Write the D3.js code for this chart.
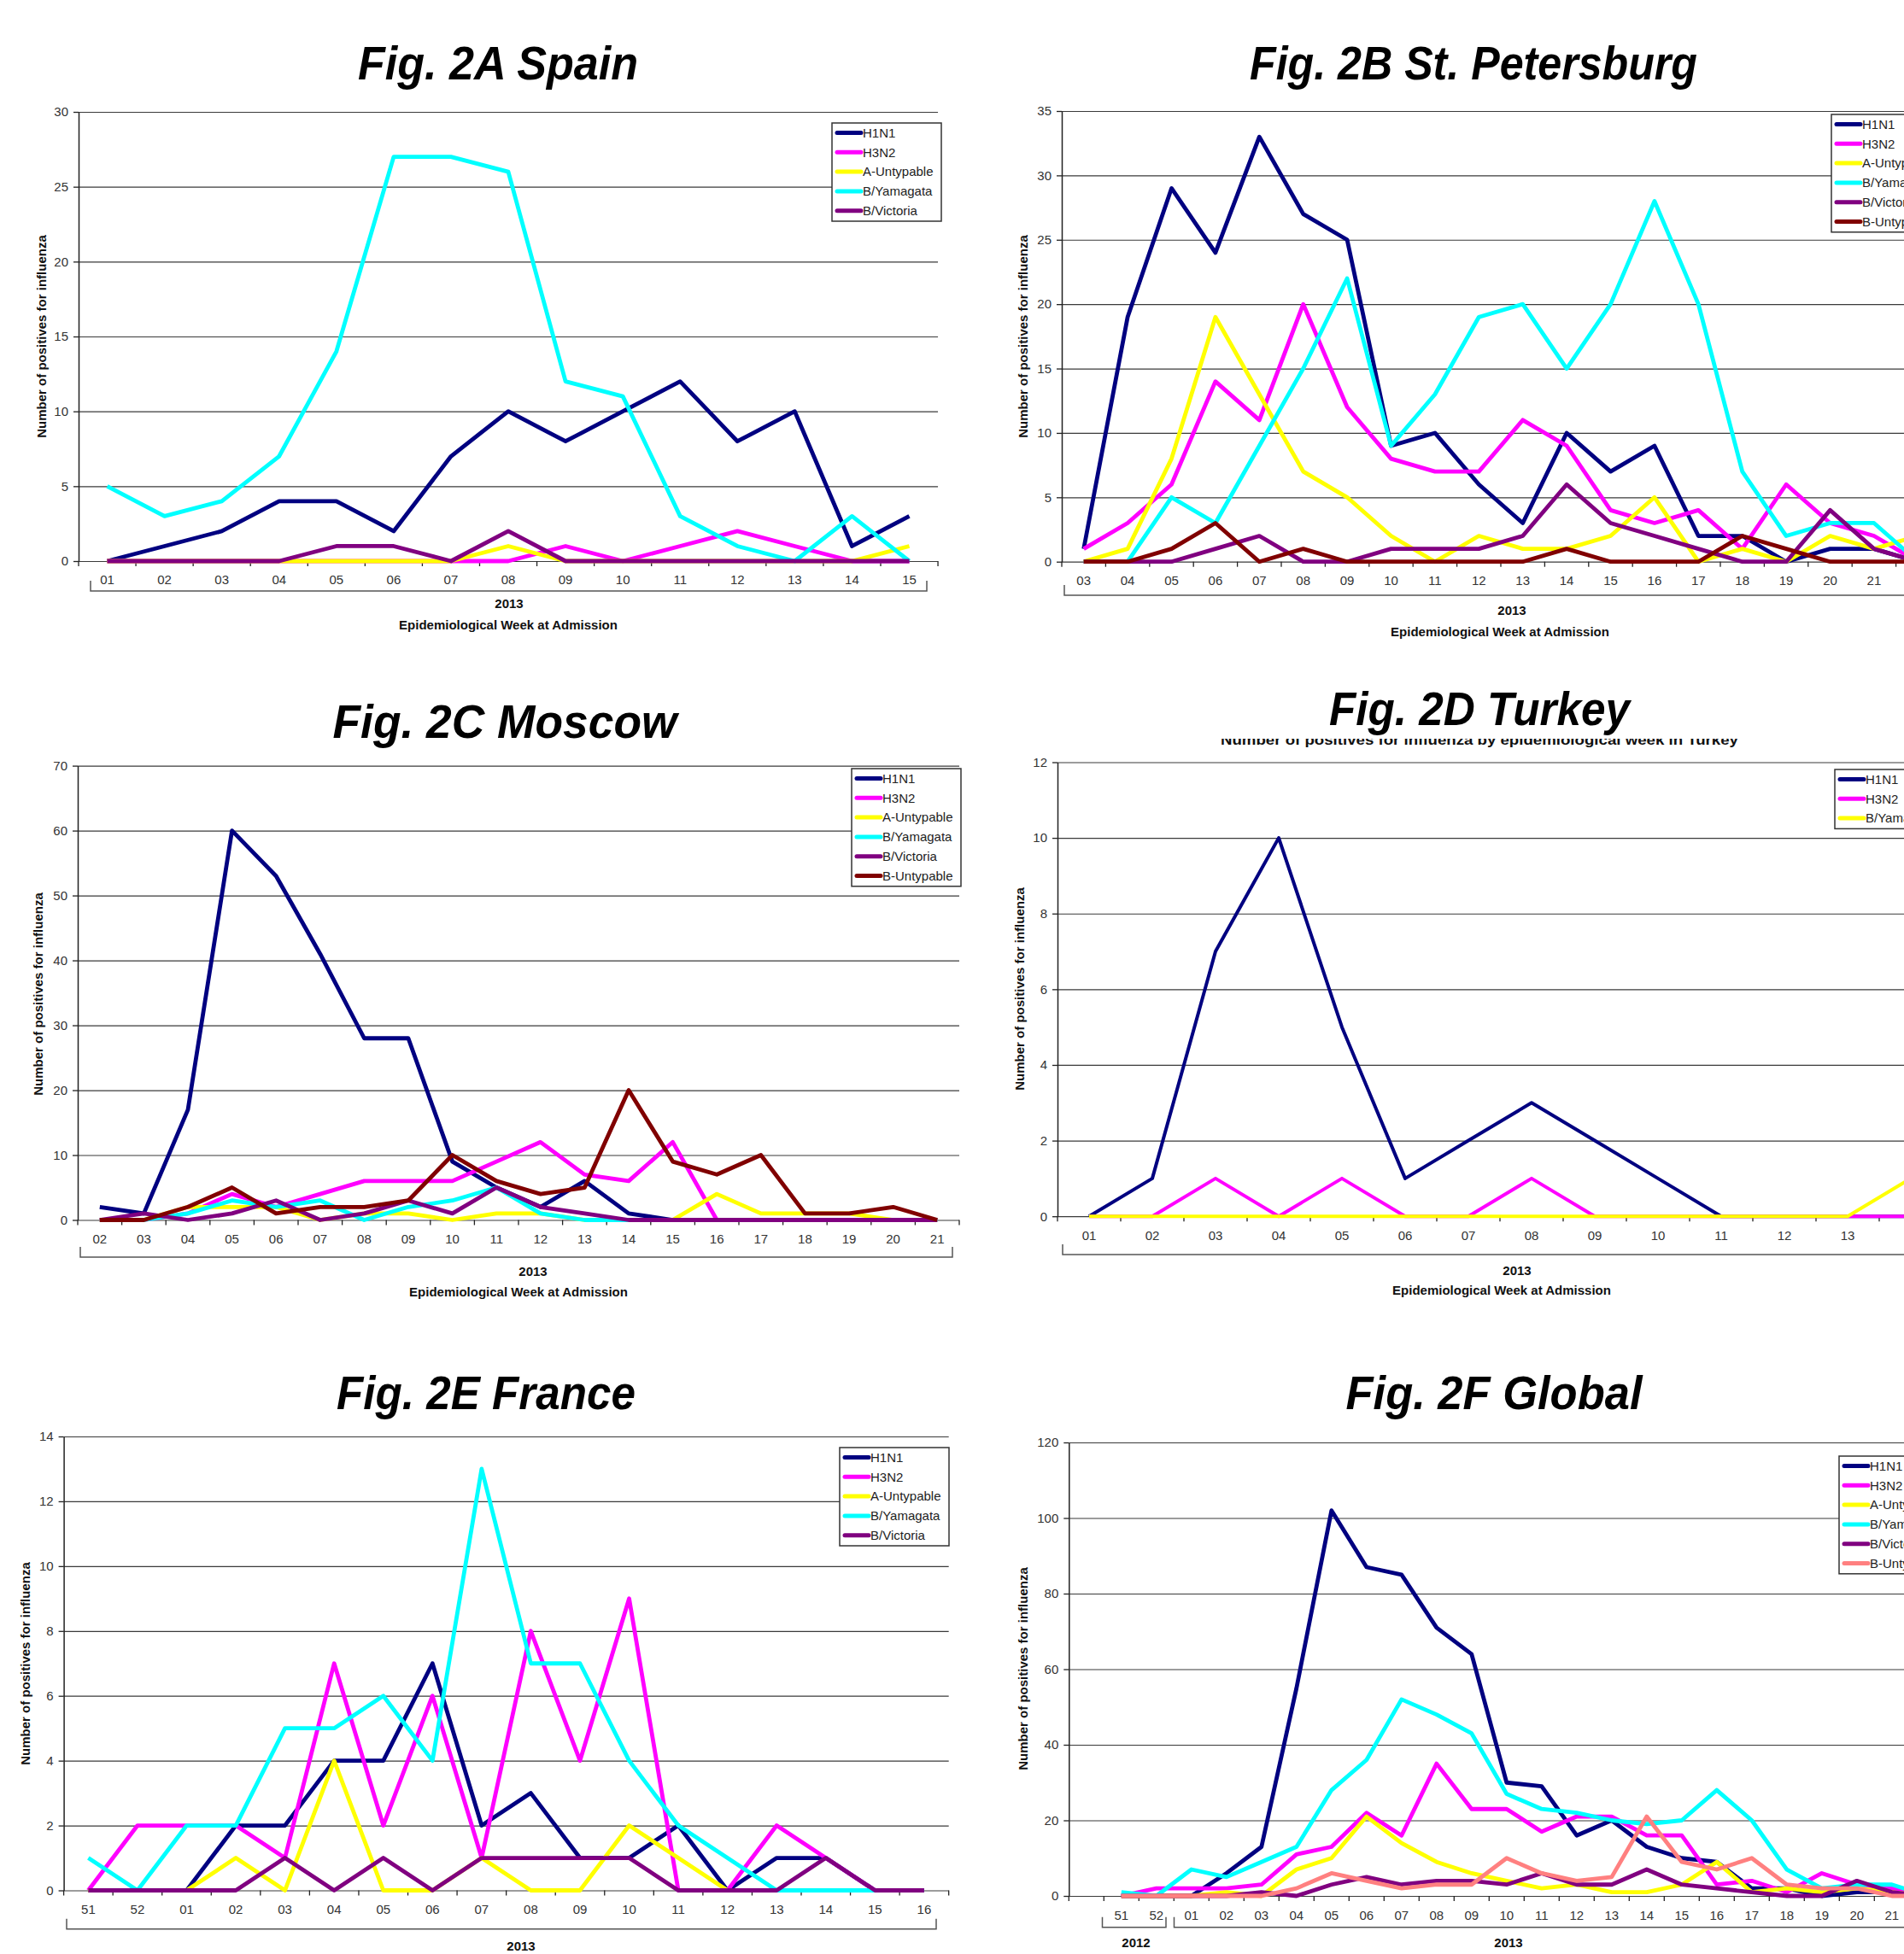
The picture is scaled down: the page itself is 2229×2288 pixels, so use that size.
<!DOCTYPE html>
<html>
<head>
<meta charset="utf-8">
<script src="https://cdn.jsdelivr.net/npm/d3@7"></script>
<style>
html, body { margin: 0; padding: 0; background: #fff; }
svg { display: block; font-family: "Liberation Sans", Arial, sans-serif; }
</style>
</head>
<body>
<svg id="chart" width="2229" height="2288"></svg>
<script>
"use strict";

// Series colours (Excel style)
var colNavy = "#000080", colPink = "#ff00ff", colYellow = "#ffff00",
    colCyan = "#00ffff", colPurple = "#800080", colBrown = "#800000", colSalmon = "#ff8080";

// Fig. 2A Spain
var spainWeeks = ["01","02","03","04","05","06","07","08","09","10","11","12","13","14","15"];
var spainH1N1 = [0,1,2,4,4,2,7,10,8,10,12,8,10,1,3];
var spainH3N2 = [0,0,0,0,0,0,0,0,1,0,1,2,1,0,0];
var spainAUnt = [0,0,0,0,0,0,0,1,0,0,0,0,0,0,1];
var spainBYam = [5,3,4,7,14,27,27,26,12,11,3,1,0,3,0];
var spainBVic = [0,0,0,0,1,1,0,2,0,0,0,0,0,0,0];

// Fig. 2B St. Petersburg
var spbWeeks = ["03","04","05","06","07","08","09","10","11","12","13","14","15","16","17","18","19","20","21","22"];
var spbH1N1 = [1,19,29,24,33,27,25,9,10,6,3,10,7,9,2,2,0,1,1,0];
var spbH3N2 = [1,3,6,14,11,20,12,8,7,7,11,9,4,3,4,1,6,3,2,0];
var spbAUnt = [0,1,8,19,13,7,5,2,0,2,1,1,2,5,0,1,0,2,1,2];
var spbBYam = [0,0,5,3,9,15,22,9,13,19,20,15,20,28,20,7,2,3,3,0];
var spbBVic = [0,0,0,1,2,0,0,1,1,1,2,6,3,2,1,0,0,4,1,0];
var spbBUnt = [0,0,1,3,0,1,0,0,0,0,0,1,0,0,0,2,1,0,0,0];

// Fig. 2C Moscow
var mosWeeks = ["02","03","04","05","06","07","08","09","10","11","12","13","14","15","16","17","18","19","20","21"];
var mosH1N1 = [2,1,17,60,53,41,28,28,9,5,2,6,1,0,0,0,0,0,0,0];
var mosH3N2 = [0,0,1,4,2,4,6,6,6,9,12,7,6,12,0,0,0,0,0,0];
var mosAUnt = [0,0,2,2,2,0,1,1,0,1,1,0,0,0,4,1,1,1,0,0];
var mosBYam = [0,0,1,3,2,3,0,2,3,5,1,0,0,0,0,0,0,0,0,0];
var mosBVic = [0,1,0,1,3,0,1,3,1,5,2,1,0,0,0,0,0,0,0,0];
var mosBUnt = [0,0,2,5,1,2,2,3,10,6,4,5,20,9,7,10,1,1,2,0];

// Fig. 2D Turkey
var turWeeks = ["01","02","03","04","05","06","07","08","09","10","11","12","13","14"];
var turH1N1 = [0,1,7,10,5,1,2,3,2,1,0,0,0,0];
var turH3N2 = [0,0,1,0,1,0,0,1,0,0,0,0,0,0];
var turBYam = [0,0,0,0,0,0,0,0,0,0,0,0,0,1];

// Fig. 2E France
var fraWeeks = ["51","52","01","02","03","04","05","06","07","08","09","10","11","12","13","14","15","16"];
var fraH1N1 = [0,0,0,2,2,4,4,7,2,3,1,1,2,0,1,1,0,0];
var fraH3N2 = [0,2,2,2,1,7,2,6,1,8,4,9,0,0,2,1,0,0];
var fraAUnt = [0,0,0,1,0,4,0,0,1,0,0,2,1,0,0,0,0,0];
var fraBYam = [1,0,2,2,5,5,6,4,13,7,7,4,2,1,0,0,0,0];
var fraBVic = [0,0,0,0,1,0,1,0,1,1,1,1,0,0,0,1,0,0];

// Fig. 2F Global
var gloWeeks = ["51","52","01","02","03","04","05","06","07","08","09","10","11","12","13","14","15","16","17","18","19","20","21","22"];
var gloH1N1 = [0,0,0,6,13,55,102,87,85,71,64,30,29,16,20,13,10,9,2,2,0,1,1,0];
var gloH3N2 = [0,2,2,2,3,11,13,22,16,35,23,23,17,21,21,16,16,3,4,1,6,3,2,0];
var gloAUnt = [0,0,0,1,0,7,10,21,14,9,6,4,2,3,1,1,3,9,1,2,1,2,1,0];
var gloBYam = [1,0,7,5,9,13,28,36,52,48,43,27,23,22,20,19,20,28,20,7,2,3,3,0];
var gloBVic = [0,0,0,0,1,0,3,5,3,4,4,3,6,3,3,7,3,2,1,0,0,4,1,0];
var gloBUnt = [0,0,0,0,0,2,6,4,2,3,3,10,6,4,5,21,9,7,10,3,2,2,0,0];

var fiveNames = ["H1N1","H3N2","A-Untypable","B/Yamagata","B/Victoria"];
var sixNames = fiveNames.concat(["B-Untypable"]);
var fiveColors = [colNavy, colPink, colYellow, colCyan, colPurple];

var panels = [
    {
        title: "Fig. 2A Spain", titleX: 583, titleY: 93, titleLen: 328,
        weeks: spainWeeks, domain: spainWeeks,
        values: [spainH1N1, spainH3N2, spainAUnt, spainBYam, spainBVic],
        names: fiveNames, colors: fiveColors, lineWidth: 4.8,
        x0: 92, band: 67.07, top: 131, bottom: 657, yMax: 30, yStep: 5,
        tickY: 679, legend: [974, 144], yTitle: [49, 394],
        brackets: [{ x1: 106, x2: 1085, label: "2013", lx: 596 }],
        bracketY: 692, labelY: 707, weekTitle: [595, 732]
    },
    {
        title: "Fig. 2B St. Petersburg", titleX: 1725, titleY: 93, titleLen: 524,
        weeks: spbWeeks, domain: spbWeeks,
        values: [spbH1N1, spbH3N2, spbAUnt, spbBYam, spbBVic, spbBUnt],
        names: sixNames, colors: fiveColors.concat([colBrown]), lineWidth: 4.8,
        x0: 1243, band: 51.4, top: 130, bottom: 657.7, yMax: 35, yStep: 5,
        tickY: 680, legend: [2144, 134], yTitle: [1198, 394],
        brackets: [{ x1: 1246, x2: 2300, label: "2013", lx: 1770 }],
        bracketY: 697, labelY: 715, weekTitle: [1756, 740]
    },
    {
        title: "Fig. 2C Moscow", titleX: 591, titleY: 864, titleLen: 403,
        weeks: mosWeeks, domain: mosWeeks,
        values: [mosH1N1, mosH3N2, mosAUnt, mosBYam, mosBVic, mosBUnt],
        names: sixNames, colors: fiveColors.concat([colBrown]), lineWidth: 4.8,
        x0: 91, band: 51.6, top: 896.6, bottom: 1428.5, yMax: 70, yStep: 10,
        tickY: 1451, legend: [997, 900], yTitle: [45, 1164],
        brackets: [{ x1: 94, x2: 1115, label: "2013", lx: 624 }],
        bracketY: 1472, labelY: 1489, weekTitle: [607, 1513]
    },
    {
        title: "Fig. 2D Turkey", titleX: 1732, titleY: 849, titleLen: 352,
        subtitle: "Number of positives for influenza by epidemiological week in Turkey",
        weeks: turWeeks, domain: turWeeks,
        values: [turH1N1, turH3N2, turBYam],
        names: ["H1N1","H3N2","B/Yamagata"], colors: [colNavy, colPink, colYellow], lineWidth: 4,
        x0: 1238, band: 74, top: 892.5, bottom: 1424.2, yMax: 12, yStep: 2,
        tickY: 1447, legend: [2148, 901], yTitle: [1194, 1158],
        brackets: [{ x1: 1244, x2: 2300, label: "2013", lx: 1776 }],
        bracketY: 1469, labelY: 1488, weekTitle: [1758, 1511]
    },
    {
        title: "Fig. 2E France", titleX: 569, titleY: 1650, titleLen: 350,
        weeks: fraWeeks, domain: fraWeeks,
        values: [fraH1N1, fraH3N2, fraAUnt, fraBYam, fraBVic],
        names: fiveNames, colors: fiveColors, lineWidth: 4.8,
        x0: 74.6, band: 57.56, top: 1682, bottom: 2213.5, yMax: 14, yStep: 2,
        tickY: 2235.5, legend: [983, 1695], yTitle: [30, 1948],
        brackets: [{ x1: 78, x2: 1096, label: "2013", lx: 610 }],
        bracketY: 2258.7, labelY: 2278.7, weekTitle: [590, 2303]
    },
    {
        title: "Fig. 2F Global", titleX: 1749, titleY: 1650, titleLen: 347,
        weeks: gloWeeks, domain: [" "].concat(gloWeeks),
        values: [gloH1N1, gloH3N2, gloAUnt, gloBYam, gloBVic, gloBUnt],
        names: sixNames, colors: fiveColors.concat([colSalmon]), lineWidth: 4.8,
        x0: 1251.3, band: 41, top: 1689, bottom: 2220, yMax: 120, yStep: 20,
        tickY: 2242.7, legend: [2153, 1705], yTitle: [1198, 1954],
        brackets: [
            { x1: 1290.5, x2: 1365, label: "2012", lx: 1330 },
            { x1: 1374.5, x2: 2300, label: "2013", lx: 1766 }
        ],
        bracketY: 2256.7, labelY: 2274.7, weekTitle: [1760, 2303]
    }
];

var svg = d3.select("#chart");
svg.append("rect").attr("width", 2229).attr("height", 2288).attr("fill", "#fff");

function drawPanel(p) {
    var g = svg.append("g");
    var n = p.domain.length;
    var right = p.x0 + p.band * n;

    var x = d3.scaleBand().domain(p.domain).range([p.x0, right]).padding(0);
    var y = d3.scaleLinear().domain([0, p.yMax]).range([p.bottom, p.top]);
    var yTicks = d3.range(0, p.yMax + p.yStep / 2, p.yStep);

    // Horizontal grid lines
    g.append("g")
        .attr("transform", "translate(" + p.x0 + ",0)")
        .call(d3.axisLeft(y).tickValues(yTicks).tickSize(-(right - p.x0)).tickFormat(""))
        .call(function(s) { s.select(".domain").remove(); })
        .selectAll("line")
        .attr("stroke", "#3a3a3a")
        .attr("stroke-width", 1.2)
    ;

    // Y axis with labels
    var ya = g.append("g")
        .attr("transform", "translate(" + p.x0 + ",0)")
        .call(d3.axisLeft(y).tickValues(yTicks).tickSize(6).tickSizeOuter(0).tickPadding(6))
    ;
    ya.select(".domain").attr("stroke", "#222").attr("stroke-width", 1.5);
    ya.selectAll(".tick line").attr("stroke", "#222").attr("stroke-width", 1.3);
    ya.selectAll("text").attr("font-size", 15).attr("fill", "#333").attr("font-family", null);

    // X axis: labels at band centres, ticks at band boundaries
    var xa = g.append("g")
        .attr("transform", "translate(0," + p.bottom + ")")
        .call(d3.axisBottom(x).tickSize(0).tickPadding(p.tickY - p.bottom - 5.5))
    ;
    xa.select(".domain").remove();
    xa.selectAll("text").attr("font-size", 15).attr("fill", "#333").attr("font-family", null);

    g.append("g").selectAll("line")
        .data(p.domain.concat(["__end"]))
        .join("line")
        .attr("x1", function(d) { return d === "__end" ? right : x(d); })
        .attr("x2", function(d) { return d === "__end" ? right : x(d); })
        .attr("y1", p.bottom)
        .attr("y2", p.bottom + 6)
        .attr("stroke", "#222")
        .attr("stroke-width", 1.3)
    ;

    // Year brackets under the week labels
    p.brackets.forEach(function(b) {
        g.append("path")
            .attr("d", "M" + b.x1 + "," + (p.bracketY - 12) + "V" + p.bracketY + "H" + b.x2 + "V" + (p.bracketY - 12))
            .attr("fill", "none")
            .attr("stroke", "#555")
            .attr("stroke-width", 1.5)
        ;
        g.append("text")
            .attr("x", b.lx)
            .attr("y", p.labelY)
            .attr("dy", "0.35em")
            .attr("text-anchor", "middle")
            .attr("font-size", 15)
            .attr("font-weight", "bold")
            .attr("fill", "#111")
            .text(b.label)
        ;
    });

    g.append("text")
        .attr("x", p.weekTitle[0])
        .attr("y", p.weekTitle[1])
        .attr("dy", "0.35em")
        .attr("text-anchor", "middle")
        .attr("font-size", 15)
        .attr("font-weight", "bold")
        .attr("fill", "#111")
        .text("Epidemiological Week at Admission")
    ;

    g.append("text")
        .attr("transform", "translate(" + p.yTitle[0] + "," + p.yTitle[1] + ") rotate(-90)")
        .attr("dy", "0.35em")
        .attr("text-anchor", "middle")
        .attr("font-size", 15)
        .attr("font-weight", "bold")
        .attr("fill", "#111")
        .text("Number of positives for influenza")
    ;

    // Series lines, later series drawn on top
    var line = d3.line()
        .x(function(d, i) { return x(p.weeks[i]) + x.bandwidth() / 2; })
        .y(function(d) { return y(d); })
    ;

    p.values.forEach(function(vals, k) {
        g.append("path")
            .datum(vals)
            .attr("d", line)
            .attr("fill", "none")
            .attr("stroke", p.colors[k])
            .attr("stroke-width", p.lineWidth)
            .attr("stroke-linejoin", "round")
        ;
    });

    // Legend
    var lx = p.legend[0], ly = p.legend[1];
    var lg = g.append("g");
    lg.append("rect")
        .attr("x", lx)
        .attr("y", ly)
        .attr("width", 128)
        .attr("height", p.names.length * 22.8 + 1)
        .attr("fill", "#fff")
        .attr("stroke", "#333")
        .attr("stroke-width", 1.5)
    ;
    p.names.forEach(function(name, i) {
        var cy = ly + 11.5 + i * 22.8;
        lg.append("line")
            .attr("x1", lx + 6).attr("x2", lx + 34)
            .attr("y1", cy).attr("y2", cy)
            .attr("stroke", p.colors[i])
            .attr("stroke-width", 5)
            .attr("stroke-linecap", "round")
        ;
        lg.append("text")
            .attr("x", lx + 36)
            .attr("y", cy)
            .attr("dy", "0.35em")
            .attr("font-size", 15)
            .attr("fill", "#222")
            .text(name)
        ;
    });

    // Subtitle half hidden behind the figure title (Turkey)
    if (p.subtitle) {
        g.append("text")
            .attr("x", p.titleX)
            .attr("y", p.titleY + 23)
            .attr("text-anchor", "middle")
            .attr("font-size", 17)
            .attr("font-weight", "bold")
            .attr("textLength", 606)
            .attr("lengthAdjust", "spacingAndGlyphs")
            .attr("fill", "#111")
            .text(p.subtitle)
        ;
        g.append("rect")
            .attr("x", p.titleX - 330)
            .attr("y", p.titleY - 15)
            .attr("width", 660)
            .attr("height", 31)
            .attr("fill", "#fff")
        ;
    }

    g.append("text")
        .attr("x", p.titleX)
        .attr("y", p.titleY)
        .attr("text-anchor", "middle")
        .attr("font-size", 55)
        .attr("font-weight", "bold")
        .attr("font-style", "italic")
        .attr("textLength", p.titleLen)
        .attr("lengthAdjust", "spacingAndGlyphs")
        .attr("fill", "#000")
        .text(p.title)
    ;
}

panels.forEach(drawPanel);
</script>
</body>
</html>
